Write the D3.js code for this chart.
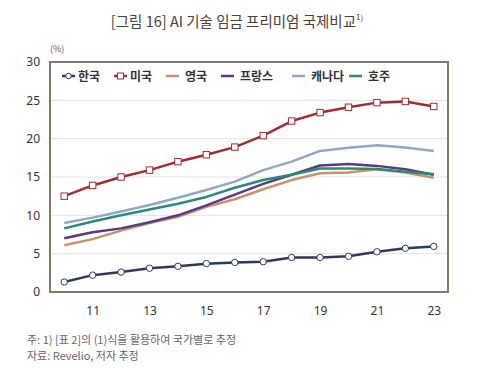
<!DOCTYPE html>
<html><head><meta charset="utf-8">
<script src="https://cdn.jsdelivr.net/npm/d3@7"></script>
<style>body{margin:0;background:#fff;}svg{display:block;font-family:"Noto Sans CJK KR","Noto Sans",sans-serif;}</style>
</head><body><svg id="c" width="482" height="368"></svg>
<script>
const years = [2010,2011,2012,2013,2014,2015,2016,2017,2018,2019,2020,2021,2022,2023];
const tickYears = [2011,2013,2015,2017,2019,2021,2023];
const tickLabels = ["11","13","15","17","19","21","23"];
const yTicks = [0,5,10,15,20,25,30];
const korea = [1.3,2.2,2.6,3.1,3.35,3.7,3.85,3.95,4.5,4.5,4.65,5.25,5.7,5.95];
const usa = [12.5,13.9,15.0,15.9,17.0,17.9,18.9,20.4,22.3,23.4,24.1,24.7,24.85,24.2];
const uk = [6.1,6.9,8.0,9.0,9.8,11.1,12.1,13.4,14.6,15.5,15.6,16.0,15.6,14.9];
const france = [7.0,7.8,8.3,9.1,10.0,11.3,12.7,14.1,15.3,16.5,16.7,16.45,16.0,15.3];
const canada = [9.0,9.7,10.5,11.35,12.3,13.3,14.4,15.9,17.0,18.4,18.8,19.15,18.85,18.4];
const australia = [8.3,9.2,10.0,10.75,11.5,12.4,13.6,14.6,15.3,16.1,16.1,16.05,15.7,15.35];
const seriesNames = ["한국","미국","영국","프랑스","캐나다","호주"];
const seriesColors = ["#2d3a5c","#a32a33","#c9926a","#5a3a84","#8ea8c6","#2a8a78"];
const seriesMarkers = ["circle","square",null,null,null,null];
const seriesData = [korea,usa,uk,france,canada,australia];

const svg = d3.select("#c");
const L=50,R=448,T=62,B=292;
const x = d3.scaleLinear().domain([2009.5,2023.5]).range([L,R]);
const y = d3.scaleLinear().domain([0,30]).range([B,T]);

svg.append("text").attr("x",237).attr("y",27).attr("text-anchor","middle")
  .attr("font-size",14.5).attr("fill","#4a4038")
  .text("[그림 16] AI 기술 임금 프리미엄 국제비교")
  .append("tspan").attr("font-size",8).attr("dy",-7).text("1)");

svg.append("text").attr("x",50).attr("y",52).attr("font-size",9).attr("fill","#555").text("(%)");

// grid
svg.append("g").selectAll("line").data(yTicks.filter(d=>d>0&&d<30)).join("line")
  .attr("x1",L).attr("x2",R).attr("y1",d=>y(d)).attr("y2",d=>y(d))
  .attr("stroke","#e2e2e2").attr("stroke-width",1);

// y axis
const ya = svg.append("g").attr("transform",`translate(${L},0)`)
  .call(d3.axisLeft(y).tickValues(yTicks).tickSize(0).tickPadding(10));
ya.select(".domain").remove();
ya.selectAll("text").attr("font-size",12).attr("fill","#333").attr("font-family","Noto Sans, sans-serif");

// x axis
const xa = svg.append("g").attr("transform",`translate(0,${B})`)
  .call(d3.axisBottom(x).tickValues(tickYears).tickFormat((d,i)=>tickLabels[i]).tickSize(0).tickPadding(14));
xa.select(".domain").remove();
xa.selectAll("text").attr("font-size",12).attr("fill","#333").attr("font-family","Noto Sans, sans-serif");

// border
svg.append("rect").attr("x",L).attr("y",T).attr("width",R-L).attr("height",B-T)
  .attr("fill","none").attr("stroke","#857a68").attr("stroke-width",2);

const line = d3.line().x((d,i)=>x(years[i])).y(d=>y(d));
const order = [2,3,5,4,1,0];
order.forEach(k=>{
  svg.append("path").attr("d",line(seriesData[k])).attr("fill","none")
    .attr("stroke",seriesColors[k]).attr("stroke-width",2.5).attr("stroke-linejoin","round");
  if(seriesMarkers[k]==="circle"){
    svg.append("g").selectAll("circle").data(seriesData[k]).join("circle")
      .attr("cx",(d,i)=>x(years[i])).attr("cy",d=>y(d)).attr("r",3.2)
      .attr("fill","#fff").attr("stroke",seriesColors[k]).attr("stroke-width",1);
  } else if(seriesMarkers[k]==="square"){
    svg.append("g").selectAll("rect").data(seriesData[k]).join("rect")
      .attr("x",(d,i)=>x(years[i])-3.2).attr("y",d=>y(d)-3.2).attr("width",6.4).attr("height",6.4)
      .attr("fill","#fff").attr("stroke",seriesColors[k]).attr("stroke-width",1);
  }
});

// legend
const legX = [62,114,166,221,292,349];
seriesNames.forEach((n,k)=>{
  const g = svg.append("g").attr("transform",`translate(${legX[k]},76)`);
  g.append("line").attr("x1",0).attr("x2",13).attr("y1",0).attr("y2",0)
    .attr("stroke",seriesColors[k]).attr("stroke-width",2.5);
  if(seriesMarkers[k]==="circle") g.append("circle").attr("cx",6.5).attr("cy",0).attr("r",2.8).attr("fill","#fff").attr("stroke",seriesColors[k]).attr("stroke-width",1);
  if(seriesMarkers[k]==="square") g.append("rect").attr("x",3.5).attr("y",-3).attr("width",6).attr("height",6).attr("fill","#fff").attr("stroke",seriesColors[k]).attr("stroke-width",1);
  g.append("text").attr("x",k<2?16:19).attr("y",4.5).attr("font-size",12).attr("font-weight","bold").attr("fill","#333").text(n);
});

svg.append("text").attr("x",27).attr("y",344).attr("font-size",11).attr("fill","#666").text("주: 1) [표 2]의 (1)식을 활용하여 국가별로 추정");
svg.append("text").attr("x",27).attr("y",360).attr("font-size",11).attr("fill","#666").text("자료: Revelio, 저자 추정");
</script></body></html>
